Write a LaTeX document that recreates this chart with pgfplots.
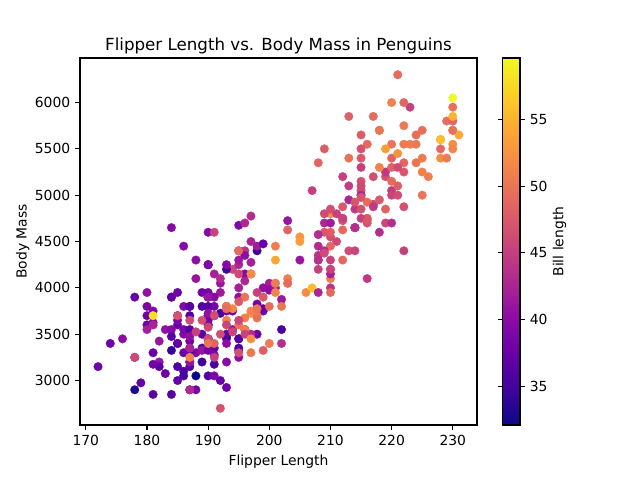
\documentclass[border=0pt]{standalone}
\usepackage{pgfplots}
\pgfplotsset{compat=1.18}
\usepackage{fontspec}
\setmainfont{DejaVu Sans}

\pgfplotsset{colormap={plasma}{rgb255=(13,8,135) rgb255=(65,4,157) rgb255=(106,0,168)
  rgb255=(143,13,164) rgb255=(177,42,144) rgb255=(204,71,120) rgb255=(225,100,98)
  rgb255=(242,132,75) rgb255=(252,166,54) rgb255=(252,206,37) rgb255=(240,249,33)}}

% flipper length, body mass, bill length
\pgfplotstableread[row sep=\\]{
f m b\\
181 3750 39.1\\ 186 3800 39.5\\ 195 3250 40.3\\ 193 3450 36.7\\ 190 3650 39.3\\
181 3625 38.9\\ 195 4675 39.2\\ 193 3475 34.1\\ 190 4250 42.0\\ 186 3300 37.8\\
180 3700 37.8\\ 182 3200 41.1\\ 191 3800 38.6\\ 198 4400 34.6\\ 185 3700 36.6\\
195 3450 38.7\\ 197 4500 42.5\\ 184 3325 34.4\\ 194 4200 46.0\\ 174 3400 37.8\\
180 3600 37.7\\ 189 3800 35.9\\ 185 3950 38.2\\ 180 3800 38.8\\ 187 3800 35.3\\
183 3550 40.6\\ 187 3200 40.5\\ 172 3150 37.9\\ 180 3950 40.5\\ 178 3250 39.5\\
178 3900 37.2\\ 188 3300 39.5\\ 184 3900 40.9\\ 195 3325 36.4\\ 196 4150 39.2\\
190 3950 38.8\\ 180 3550 42.2\\ 181 3300 37.6\\ 184 4650 39.8\\ 182 3150 36.5\\
195 3900 40.8\\ 186 3100 36.0\\ 196 4400 44.1\\ 185 3000 37.0\\ 190 4600 39.6\\
182 3425 41.1\\ 179 2975 37.5\\ 190 3450 36.0\\ 191 4150 42.3\\ 186 3500 39.6\\
188 4300 40.1\\ 190 3450 35.0\\ 200 4050 42.0\\ 187 2900 34.5\\ 191 3700 41.4\\
186 3550 39.0\\ 193 3800 40.6\\ 181 2850 36.5\\ 194 3750 37.6\\ 185 3150 35.7\\
195 4400 41.3\\ 185 3600 37.6\\ 192 4050 41.1\\ 184 2850 36.4\\ 192 3950 41.6\\
195 3350 35.5\\ 188 4100 41.1\\ 190 3050 35.9\\ 198 4450 41.8\\ 190 3600 33.5\\
190 3900 39.7\\ 196 3550 39.6\\ 197 4150 45.8\\ 190 3700 35.5\\ 195 4250 42.8\\
191 3700 40.9\\ 184 3900 37.2\\ 187 3550 36.2\\ 195 4000 42.1\\ 189 3200 34.6\\
196 4700 42.9\\ 187 3800 36.7\\ 193 4200 35.1\\ 191 3350 37.3\\ 194 3550 41.3\\
190 3800 36.3\\ 189 3500 36.9\\ 189 3950 38.3\\ 190 3600 38.9\\ 202 3550 35.7\\
205 4300 41.1\\ 185 3400 34.0\\ 186 4450 39.6\\ 187 3300 36.2\\ 208 4300 40.8\\
190 3700 38.1\\ 196 4350 40.3\\ 178 2900 33.1\\ 192 4100 43.2\\ 192 3725 35.0\\
203 4725 41.0\\ 183 3075 37.7\\ 190 4250 37.8\\ 193 2925 37.9\\ 184 3550 39.7\\
199 3750 38.6\\ 190 3900 38.2\\ 181 3175 38.1\\ 197 4775 43.2\\ 198 3825 38.1\\
191 4600 45.6\\ 193 3200 39.7\\ 197 4275 42.2\\ 191 3900 39.6\\ 196 4075 42.7\\
188 2900 38.6\\ 199 3775 37.3\\ 189 3350 35.7\\ 189 3325 41.1\\ 187 3150 36.2\\
198 3500 37.7\\ 176 3450 40.2\\ 202 3875 41.4\\ 186 3050 35.2\\ 199 4000 40.6\\
191 3275 38.8\\ 195 4300 41.5\\ 191 3050 39.0\\ 210 4000 44.1\\ 190 3325 38.5\\
197 3500 43.1\\ 193 3500 36.8\\ 199 4475 37.5\\ 187 3425 38.1\\ 190 3900 41.1\\
191 3175 35.6\\ 200 3975 40.2\\ 185 3400 37.0\\ 193 4250 39.7\\ 193 3400 40.2\\
187 3475 40.6\\ 188 3050 32.1\\ 190 3725 40.7\\ 192 3000 37.3\\ 185 3650 39.0\\
190 4250 39.2\\ 184 3475 36.6\\ 195 3450 36.0\\ 193 3750 37.8\\ 187 3700 36.0\\
201 4000 41.5\\
192 3500 46.5\\ 196 3900 50.0\\ 193 3650 51.3\\ 188 3525 45.4\\ 197 3725 52.7\\
198 3950 45.2\\ 178 3250 46.1\\ 197 3750 51.3\\ 195 4150 46.0\\ 198 3700 51.3\\
193 3800 46.6\\ 194 3775 51.7\\ 185 3700 47.0\\ 201 4050 52.0\\ 190 3575 45.9\\
201 4050 50.5\\ 197 3300 50.3\\ 181 3700 58.0\\ 190 3450 46.4\\ 195 4400 49.2\\
181 3600 42.4\\ 191 3400 48.5\\ 187 2900 43.2\\ 193 3800 50.6\\ 195 3300 46.7\\
197 4150 52.0\\ 200 3400 50.5\\ 200 3800 49.5\\ 191 3700 46.4\\ 205 4550 52.8\\
187 3200 40.9\\ 201 4300 54.2\\ 187 3350 42.5\\ 203 4100 51.0\\ 195 3600 49.7\\
199 3900 47.5\\ 195 3850 47.6\\ 210 4800 52.0\\ 192 2700 46.9\\ 205 4500 53.5\\
210 3950 49.0\\ 187 3650 46.2\\ 196 3550 50.9\\ 196 3500 45.5\\ 196 3675 50.9\\
201 4450 50.8\\ 190 3400 50.1\\ 212 4300 49.0\\ 187 3250 51.5\\ 198 3675 49.8\\
199 3325 48.1\\ 201 3950 51.4\\ 193 3600 45.7\\ 203 4050 50.7\\ 187 3350 42.5\\
197 3450 52.2\\ 191 3250 45.2\\ 203 4050 49.3\\ 202 3800 50.2\\ 194 3525 45.6\\
206 3950 51.9\\ 189 3650 46.8\\ 195 3650 45.7\\ 207 4000 55.8\\ 202 3400 43.5\\
193 3775 49.6\\ 210 4100 50.8\\ 198 3775 50.2\\
211 4500 46.1\\ 230 5700 50.0\\ 210 4450 48.7\\ 218 5700 50.0\\ 215 5400 47.6\\
210 4550 46.5\\ 211 4800 45.4\\ 219 5200 46.7\\ 209 4400 43.3\\ 215 5150 46.8\\
214 4650 40.9\\ 216 5550 49.0\\ 214 4650 45.5\\ 213 5850 48.4\\ 210 4200 45.8\\
217 5850 49.3\\ 210 4150 42.0\\ 221 6300 49.2\\ 209 4800 46.2\\ 222 5350 48.7\\
218 5700 50.2\\ 215 5000 45.1\\ 213 4400 46.5\\ 215 5050 46.3\\ 215 5000 42.9\\
215 5100 46.1\\ 216 4100 44.5\\ 215 5650 47.8\\ 210 4600 48.2\\ 220 5550 50.0\\
222 5250 47.3\\ 209 4700 42.8\\ 207 5050 45.1\\ 230 6050 59.6\\ 220 5150 49.1\\
220 5400 48.4\\ 213 4950 42.6\\ 219 5250 44.4\\ 208 4350 44.0\\ 208 5350 48.7\\
208 3950 42.7\\ 225 5700 49.6\\ 210 4300 45.3\\ 216 4750 49.6\\ 222 5550 50.5\\
217 4900 43.6\\ 210 4200 45.5\\ 225 5400 50.5\\ 213 5100 44.9\\ 215 5300 45.2\\
210 4850 46.6\\ 220 5300 48.5\\ 222 4400 45.1\\ 225 5000 50.1\\ 217 4900 46.5\\
220 5050 45.0\\ 208 4300 43.8\\ 220 5000 45.5\\ 208 4450 43.2\\ 224 5550 50.4\\
208 4200 45.3\\ 221 5300 46.2\\ 214 4400 45.7\\ 231 5650 54.3\\ 219 4700 45.8\\
230 5700 49.8\\ 214 4650 46.2\\ 229 5800 49.5\\ 220 4700 43.5\\ 223 5550 50.7\\
216 4750 47.7\\ 221 5000 46.4\\ 221 5100 48.2\\ 217 5200 46.5\\ 216 4700 46.4\\
230 5800 48.6\\ 209 4600 47.5\\ 220 6000 51.1\\ 215 4750 45.2\\ 223 5950 45.2\\
212 4625 49.1\\ 221 5450 52.5\\ 212 4725 47.4\\ 224 5350 50.0\\ 212 4750 44.9\\
228 5600 50.8\\ 218 4600 43.4\\ 218 5300 51.3\\ 212 4875 47.5\\ 230 5550 52.1\\
218 4950 47.5\\ 228 5400 52.2\\ 212 4750 45.5\\ 224 5650 49.5\\ 214 4850 44.5\\
226 5200 50.8\\ 216 4925 49.4\\ 222 4875 46.9\\ 203 4625 48.4\\ 225 5250 51.1\\
219 4850 48.5\\ 228 5600 55.9\\ 215 4975 47.2\\ 228 5500 49.1\\ 216 4725 47.3\\
215 5500 46.8\\ 210 4700 41.7\\ 219 5500 53.4\\ 208 4575 43.3\\ 209 5500 48.1\\
229 5400 50.5\\ 230 5950 49.8\\ 214 4650 43.5\\ 230 5500 51.5\\ 209 4375 46.2\\
230 5850 55.1\\ 217 4875 44.5\\ 222 6000 48.8\\ 214 4925 47.2\\ 215 4850 46.8\\
222 5750 50.4\\ 212 5200 45.2\\ 213 5400 49.9\\
}\penguins

\begin{document}
\begin{tikzpicture}
\useasboundingbox (0,0) rectangle (460.8pt,345.6pt);
\begin{axis}[
  at={(57.6pt,39.6pt)}, anchor=south west,
  scale only axis, width=285.8pt, height=264.2pt,
  xmin=169.05, xmax=233.95, ymin=2520, ymax=6480,
  xtick={170,180,...,230}, ytick={3000,3500,...,6000},
  scaled ticks=false,
  xtick pos=bottom, ytick pos=left,
  tick align=outside, major tick length=3.5pt,
  tick style={black, line width=0.8pt},
  axis line style={line width=0.8pt},
  /pgf/number format/assume math mode=true,
  /pgf/number format/1000 sep={},
  ticklabel style={font=\fontsize{10}{12}\selectfont},
  label style={font=\fontsize{10}{12}\selectfont},
  ylabel shift=-3pt,
  title style={font=\fontsize{12}{14}\selectfont, yshift=-6.6pt},
  title={Flipper Length vs. Body Mass in Penguins},
  xlabel={Flipper Length}, ylabel={Body Mass},
  colormap name=plasma,
  colorbar,
  colorbar style={
    at={(parent axis.north east)}, anchor=north west, xshift=10pt,
    width=12.5pt,
    ytick={35,40,45,50,55},
    yticklabel pos=right,
    tick align=outside, major tick length=3.5pt,
    tick style={black, line width=0.8pt},
    axis line style={line width=0.8pt},
    /pgf/number format/assume math mode=true,
    ticklabel style={font=\fontsize{10}{12}\selectfont},
    ylabel={Bill length},
    ylabel shift=-3pt,
    ylabel style={font=\fontsize{10}{12}\selectfont},
  },
]
\addplot[scatter, only marks, mark=*, mark size=3.1pt,
  mark options={line width=0.2pt},
  scatter/use mapped color={draw=mapped color, fill=mapped color},
  point meta=explicit]
  table[x=f, y=m, meta=b] {\penguins};
\end{axis}
\end{tikzpicture}
\end{document}
